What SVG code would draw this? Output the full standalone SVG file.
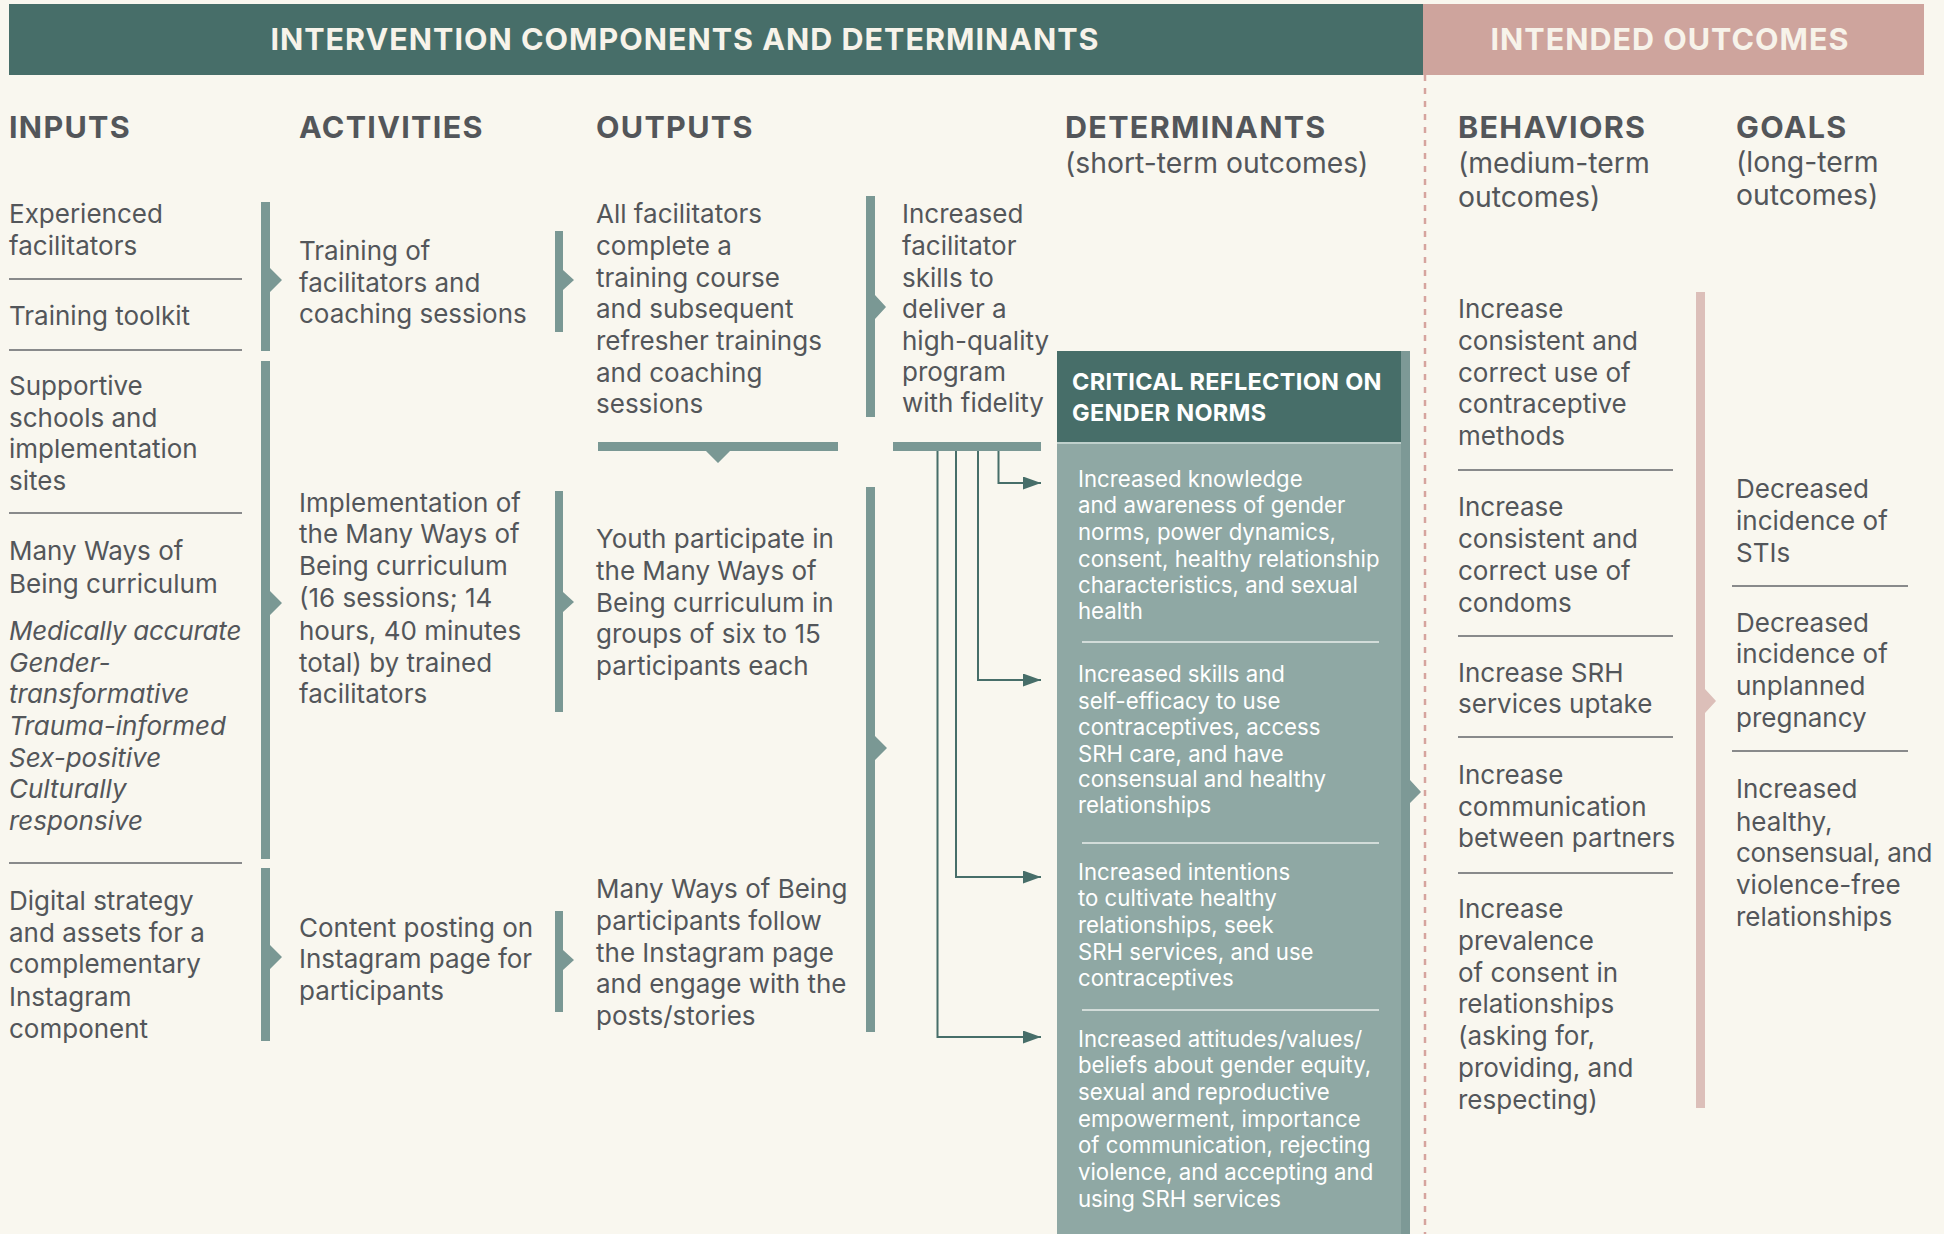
<svg xmlns="http://www.w3.org/2000/svg" width="1944" height="1234" viewBox="0 0 1944 1234">
<defs>
<style>
.t{font-family:Inter,"Liberation Sans",sans-serif;font-size:26px;fill:#53565a}
.i{font-style:italic}
.hd{font-family:Inter,"Liberation Sans",sans-serif;font-weight:700;font-size:30.5px;letter-spacing:1.3px;fill:#53565a}
.sub{font-family:Inter,"Liberation Sans",sans-serif;font-size:28.3px;fill:#53565a}
.ban{font-family:Inter,"Liberation Sans",sans-serif;font-weight:700;font-size:30.5px;letter-spacing:1px;fill:#f7f3ea}
.w{font-family:Inter,"Liberation Sans",sans-serif;font-size:22.2px;fill:#ffffff}
.wb{font-family:Inter,"Liberation Sans",sans-serif;font-weight:700;font-size:23.5px;letter-spacing:0.3px;fill:#ffffff}
.sep{stroke:#63666a;stroke-width:1.5}
.wsep{stroke:#e9eeeb;stroke-width:1.5}
.bar{fill:#7a9894}
.pbar{fill:#dcbfb9}
.con{fill:none;stroke:#476e69;stroke-width:2}
</style>
<marker id="ah" markerUnits="userSpaceOnUse" markerWidth="18" markerHeight="13" refX="18" refY="6.5" orient="auto">
<path d="M0,0 L18,6.5 L0,13 z" fill="#476e69"/>
</marker>
</defs>
<rect width="1944" height="1234" fill="#f9f7ef"/>

<g id="banner">
<rect x="9" y="4" width="1414" height="71" fill="#476e69"/>
<rect x="1423" y="4" width="501" height="71" fill="#cea49d"/>
<text class="ban" x="685" y="50" text-anchor="middle">INTERVENTION COMPONENTS AND DETERMINANTS</text>
<text class="ban" x="1670" y="50" text-anchor="middle">INTENDED OUTCOMES</text>
<line x1="1425" y1="75" x2="1425" y2="1234" stroke="#d6a49e" stroke-width="2.5" stroke-dasharray="6 7"/>
</g>

<g id="column-headers">
<text class="hd" x="9" y="138">INPUTS</text>
<text class="hd" x="299" y="138">ACTIVITIES</text>
<text class="hd" x="596" y="138">OUTPUTS</text>
<text class="hd" x="1065" y="138">DETERMINANTS</text>
<text class="sub" x="1065" y="173">(short-term outcomes)</text>
<text class="hd" x="1458" y="138">BEHAVIORS</text>
<text class="sub" x="1458" y="173">(medium-term</text>
<text class="sub" x="1458" y="207">outcomes)</text>
<text class="hd" x="1736" y="138">GOALS</text>
<text class="sub" x="1736" y="172">(long-term</text>
<text class="sub" x="1736" y="205">outcomes)</text>
</g>

<g id="inputs">
<text class="t" x="9" y="223">Experienced</text>
<text class="t" x="9" y="255">facilitators</text>
<line class="sep" x1="9" y1="279" x2="242" y2="279"/>
<text class="t" x="9" y="325">Training toolkit</text>
<line class="sep" x1="9" y1="350" x2="242" y2="350"/>
<text class="t" x="9" y="395">Supportive</text>
<text class="t" x="9" y="427">schools and</text>
<text class="t" x="9" y="458">implementation</text>
<text class="t" x="9" y="490">sites</text>
<line class="sep" x1="9" y1="513" x2="242" y2="513"/>
<text class="t" x="9" y="560">Many Ways of</text>
<text class="t" x="9" y="593">Being curriculum</text>
<text class="t i" x="9" y="640" letter-spacing="-0.2">Medically accurate</text>
<text class="t i" x="9" y="672">Gender-</text>
<text class="t i" x="9" y="703">transformative</text>
<text class="t i" x="9" y="735">Trauma-informed</text>
<text class="t i" x="9" y="767">Sex-positive</text>
<text class="t i" x="9" y="798">Culturally</text>
<text class="t i" x="9" y="830">responsive</text>
<line class="sep" x1="9" y1="863" x2="242" y2="863"/>
<text class="t" x="9" y="910">Digital strategy</text>
<text class="t" x="9" y="942">and assets for a</text>
<text class="t" x="9" y="973">complementary</text>
<text class="t" x="9" y="1006">Instagram</text>
<text class="t" x="9" y="1038">component</text>
</g>

<g id="activities">
<text class="t" x="299" y="260">Training of</text>
<text class="t" x="299" y="292">facilitators and</text>
<text class="t" x="299" y="323">coaching sessions</text>
<text class="t" x="299" y="512">Implementation of</text>
<text class="t" x="299" y="543">the Many Ways of</text>
<text class="t" x="299" y="575">Being curriculum</text>
<text class="t" x="299" y="607">(16 sessions; 14</text>
<text class="t" x="299" y="640">hours, 40 minutes</text>
<text class="t" x="299" y="672">total) by trained</text>
<text class="t" x="299" y="703">facilitators</text>
<text class="t" x="299" y="937">Content posting on</text>
<text class="t" x="299" y="968">Instagram page for</text>
<text class="t" x="299" y="1000">participants</text>
</g>

<g id="outputs">
<text class="t" x="596" y="223">All facilitators</text>
<text class="t" x="596" y="255">complete a</text>
<text class="t" x="596" y="287">training course</text>
<text class="t" x="596" y="318">and subsequent</text>
<text class="t" x="596" y="350">refresher trainings</text>
<text class="t" x="596" y="382">and coaching</text>
<text class="t" x="596" y="413">sessions</text>
<text class="t" x="596" y="548">Youth participate in</text>
<text class="t" x="596" y="580">the Many Ways of</text>
<text class="t" x="596" y="612">Being curriculum in</text>
<text class="t" x="596" y="643">groups of six to 15</text>
<text class="t" x="596" y="675">participants each</text>
<text class="t" x="596" y="898">Many Ways of Being</text>
<text class="t" x="596" y="930">participants follow</text>
<text class="t" x="596" y="962">the Instagram page</text>
<text class="t" x="596" y="993">and engage with the</text>
<text class="t" x="596" y="1025">posts/stories</text>
</g>

<g id="facilitator-skills">
<text class="t" x="902" y="223">Increased</text>
<text class="t" x="902" y="255">facilitator</text>
<text class="t" x="902" y="287">skills to</text>
<text class="t" x="902" y="318">deliver a</text>
<text class="t" x="902" y="350">high-quality</text>
<text class="t" x="902" y="381">program</text>
<text class="t" x="902" y="412">with fidelity</text>
</g>

<g id="critical-reflection">
<rect x="1057" y="443" width="344" height="791" fill="#8fa8a4"/>
<rect x="1057" y="351" width="344" height="91" fill="#476e69"/>
<line x1="1057" y1="443" x2="1401" y2="443" stroke="#bfd0cc" stroke-width="2"/>
<path d="M1401,351 H1410 V780 L1421,792 L1410,803 V1234 H1401 z" fill="#7d9996"/>
<text class="wb" x="1072" y="390">CRITICAL  REFLECTION ON</text>
<text class="wb" x="1072" y="421">GENDER NORMS</text>
<text class="w" x="1078" y="487">Increased knowledge</text>
<text class="w" x="1078" y="513">and awareness of gender</text>
<text class="w" x="1078" y="540">norms, power dynamics,</text>
<text class="w" x="1078" y="567">consent, healthy relationship</text>
<text class="w" x="1078" y="593">characteristics, and sexual</text>
<text class="w" x="1078" y="619">health</text>
<line class="wsep" x1="1082" y1="642" x2="1379" y2="642"/>
<text class="w" x="1078" y="682">Increased skills and</text>
<text class="w" x="1078" y="709">self-efficacy to use</text>
<text class="w" x="1078" y="735">contraceptives, access</text>
<text class="w" x="1078" y="762">SRH care, and have</text>
<text class="w" x="1078" y="787">consensual and healthy</text>
<text class="w" x="1078" y="813">relationships</text>
<line class="wsep" x1="1082" y1="843" x2="1379" y2="843"/>
<text class="w" x="1078" y="880">Increased intentions</text>
<text class="w" x="1078" y="906">to cultivate healthy</text>
<text class="w" x="1078" y="933">relationships, seek</text>
<text class="w" x="1078" y="960">SRH services, and use</text>
<text class="w" x="1078" y="986">contraceptives</text>
<line class="wsep" x1="1082" y1="1010" x2="1379" y2="1010"/>
<text class="w" x="1078" y="1047">Increased attitudes/values/</text>
<text class="w" x="1078" y="1073">beliefs about gender equity,</text>
<text class="w" x="1078" y="1100">sexual and reproductive</text>
<text class="w" x="1078" y="1127">empowerment, importance</text>
<text class="w" x="1078" y="1153">of communication, rejecting</text>
<text class="w" x="1078" y="1180">violence, and accepting and</text>
<text class="w" x="1078" y="1207">using SRH services</text>
</g>

<g id="behaviors">
<text class="t" x="1458" y="318">Increase</text>
<text class="t" x="1458" y="350">consistent and</text>
<text class="t" x="1458" y="382">correct use of</text>
<text class="t" x="1458" y="413">contraceptive</text>
<text class="t" x="1458" y="445">methods</text>
<line class="sep" x1="1458" y1="470" x2="1673" y2="470"/>
<text class="t" x="1458" y="516">Increase</text>
<text class="t" x="1458" y="548">consistent and</text>
<text class="t" x="1458" y="580">correct use of</text>
<text class="t" x="1458" y="612">condoms</text>
<line class="sep" x1="1458" y1="636" x2="1673" y2="636"/>
<text class="t" x="1458" y="682">Increase SRH</text>
<text class="t" x="1458" y="713">services uptake</text>
<line class="sep" x1="1458" y1="737" x2="1673" y2="737"/>
<text class="t" x="1458" y="784">Increase</text>
<text class="t" x="1458" y="816">communication</text>
<text class="t" x="1458" y="847">between partners</text>
<line class="sep" x1="1458" y1="873" x2="1673" y2="873"/>
<text class="t" x="1458" y="918">Increase</text>
<text class="t" x="1458" y="950">prevalence</text>
<text class="t" x="1458" y="982">of consent in</text>
<text class="t" x="1458" y="1013">relationships</text>
<text class="t" x="1458" y="1045">(asking for,</text>
<text class="t" x="1458" y="1077">providing, and</text>
<text class="t" x="1458" y="1109">respecting)</text>
</g>

<g id="goals">
<text class="t" x="1736" y="498">Decreased</text>
<text class="t" x="1736" y="530">incidence of</text>
<text class="t" x="1736" y="562">STIs</text>
<line class="sep" x1="1732" y1="586" x2="1908" y2="586"/>
<text class="t" x="1736" y="632">Decreased</text>
<text class="t" x="1736" y="663">incidence of</text>
<text class="t" x="1736" y="695">unplanned</text>
<text class="t" x="1736" y="727">pregnancy</text>
<line class="sep" x1="1732" y1="751" x2="1908" y2="751"/>
<text class="t" x="1736" y="798">Increased</text>
<text class="t" x="1736" y="831">healthy,</text>
<text class="t" x="1736" y="862" letter-spacing="-0.3">consensual, and</text>
<text class="t" x="1736" y="894">violence-free</text>
<text class="t" x="1736" y="926">relationships</text>
</g>

<g id="connectors">
<path class="bar" d="M261,202 H270 V268 L282,280 L270,292 V351 H261 z"/>
<path class="bar" d="M261,361 H270 V591 L282,603 L270,615 V859 H261 z"/>
<path class="bar" d="M261,868 H270 V945 L282,957 L270,969 V1041 H261 z"/>
<path class="bar" d="M555,231 H563 V270 L574,280 L563,290 V332 H555 z"/>
<path class="bar" d="M555,491 H563 V592 L574,602 L563,612 V712 H555 z"/>
<path class="bar" d="M555,911 H563 V950 L574,960 L563,970 V1012 H555 z"/>
<path class="bar" d="M866,196 H875 V295 L886,307 L875,319 V417 H866 z"/>
<path class="bar" d="M866,487 H875 V736 L887,748 L875,760 V1032 H866 z"/>
<path class="bar" d="M598,442 H838 V451 H730 L718,463 L706,451 H598 z"/>
<rect class="bar" x="893" y="442" width="148" height="9"/>
<path class="con" d="M998.5,451 V483 H1041" marker-end="url(#ah)"/>
<path class="con" d="M978,451 V680 H1041" marker-end="url(#ah)"/>
<path class="con" d="M956,451 V877 H1041" marker-end="url(#ah)"/>
<path class="con" d="M937.5,451 V1037 H1041" marker-end="url(#ah)"/>
<path class="pbar" d="M1696,292 H1705 V689 L1716,701 L1705,713 V1108 H1696 z"/>
</g>
</svg>
